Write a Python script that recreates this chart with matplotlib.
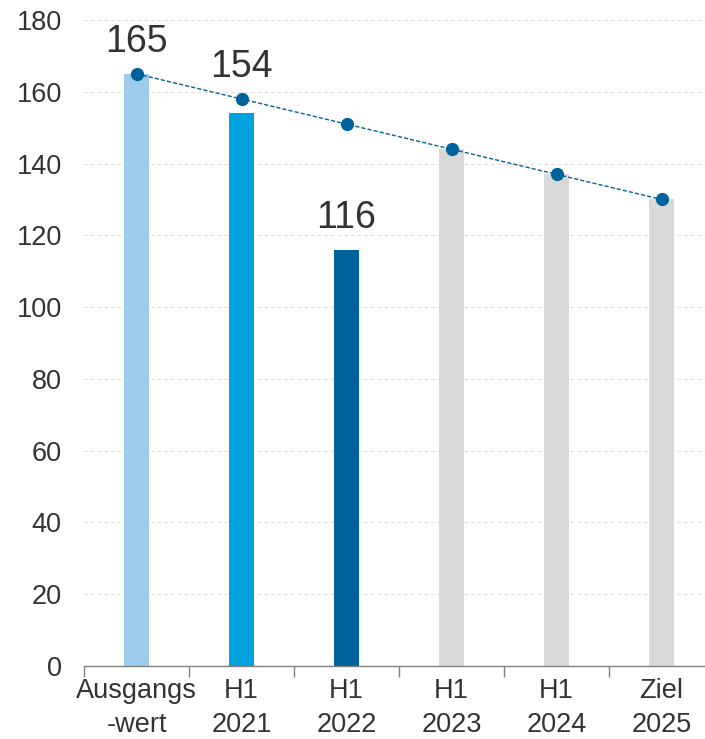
import numpy as np
import matplotlib.pyplot as plt

plt.rcParams['font.family'] = ['Liberation Sans', 'DejaVu Sans']

categories = ['Ausgangs\n-wert', 'H1\n2021', 'H1\n2022', 'H1\n2023', 'H1\n2024', 'Ziel\n2025']
bar_values = [165, 154, 116, 144, 137, 130]
path_values = [165, 158, 151, 144, 137, 130]
bar_labels = ['165', '154', '116', '', '', '']
bar_colors = ['#9ccbeb', '#00a3e0', '#00629b', '#d9d9d9', '#d9d9d9', '#d9d9d9']

text_col = '#333333'
x = np.arange(len(categories))

fig = plt.figure(figsize=(7.05, 7.39), dpi=100)
ax = fig.add_axes([84 / 705, 1 - 666 / 739, 1 - 84 / 705, (666 - 20) / 739])

ax.bar(x, bar_values, width=0.24, color=bar_colors, zorder=2)
ax.plot(x, path_values, linestyle=(0, (3, 1.5)), linewidth=1, color='#00629b',
        marker='o', markersize=8.5, zorder=3)

# the label sits above the bar, or above the marker when it is higher on the path
for i, lab in enumerate(bar_labels):
    if lab:
        top = bar_values[i] if i == 2 else max(bar_values[i], path_values[i])
        ax.annotate(lab, (x[i], top), xytext=(0, 15.5), textcoords='offset points',
                    ha='center', va='baseline', fontsize=27, color=text_col)

ax.set_ylim(0, 180)
ax.set_xlim(-0.5, 5.414)
ax.set_yticks(range(0, 181, 20))
ax.yaxis.grid(True, linestyle=(0, (3, 3)), color='#dcdcdc', linewidth=0.8, zorder=0)
ax.set_axisbelow(True)

# boundaries as major ticks, labels on minor ticks
ax.set_xticks(np.arange(-0.5, 5.0, 1.0))
ax.set_xticklabels([])
ax.set_xticks(x, minor=True)
ax.set_xticklabels(categories, minor=True, fontsize=19.5, color=text_col, linespacing=1.4)
ax.tick_params(axis='x', which='major', length=8, color='#808080', width=1)
ax.tick_params(axis='x', which='minor', length=0, pad=9)
ax.tick_params(axis='y', length=0, pad=16, labelsize=19.5, labelcolor=text_col)

for s in ['top', 'right', 'left']:
    ax.spines[s].set_visible(False)
ax.spines['bottom'].set_color('#808080')
ax.spines['bottom'].set_linewidth(1)

fig.savefig('out.png', dpi=100)
